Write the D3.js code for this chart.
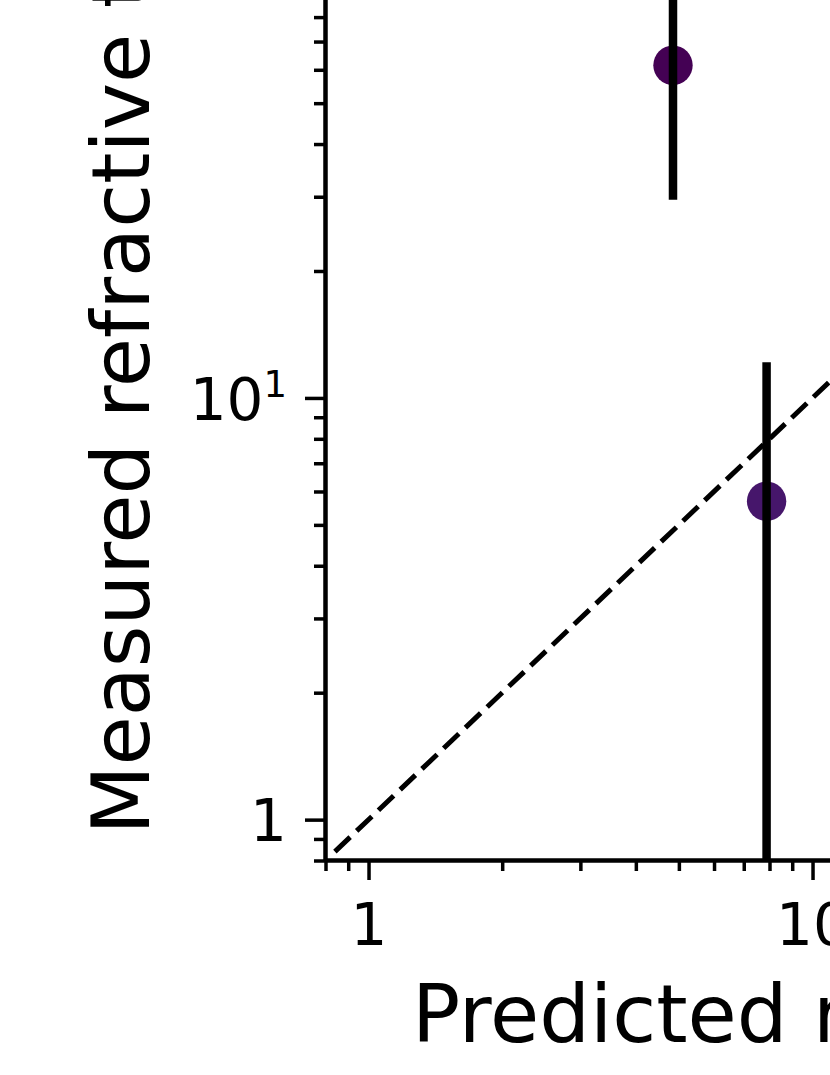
<!DOCTYPE html>
<html>
<head>
<meta charset="utf-8">
<script src="https://cdn.jsdelivr.net/npm/d3@7"></script>
<style>
  html, body { margin: 0; padding: 0; background: #ffffff; overflow: hidden; }
  svg { display: block; }
</style>
</head>
<body>
<script>
// ---- data ----
const predicted = [4.85, 7.88];          // x values
const measured = [61.5, 5.69];           // y values
const measuredErr = [32, 6.46];          // symmetric y errors
const pointColors = ["#440154", "#46166b"];
const xMajorTicks = [1, 10, 100];
const xMajorLabels = ["1", "10", "100"];
const yMajorTicks = [1, 10, 100];
const yMajorLabels = ["1", "10^1", "10^2"];
const minorTicks = [0.8, 0.9, 2, 3, 4, 5, 6, 7, 8, 9, 20, 30, 40, 50, 60, 70, 80, 90, 200, 300, 400, 500];
const identityLine = [0.84, 1000];
const xLabelText = "Predicted refractive time";
const yLabelText = "Measured refractive time";

// ---- layout ----
const W = 830, H = 1075;
const left = 325, bottom = 860.5;
const xPerDecade = 444, yPerDecade = 421.7;
const domainMin = 0.8, domainMax = 1000;
const decades = Math.log10(domainMax / domainMin);

const svg = d3.select("body").append("svg").attr("width", W).attr("height", H);

const x = d3.scaleLog().domain([domainMin, domainMax]).range([left + 0.5, left + 0.5 + decades * xPerDecade]);
const y = d3.scaleLog().domain([domainMin, domainMax]).range([bottom, bottom - decades * yPerDecade]);

const FONT = "DejaVu Sans";

svg.append("clipPath").attr("id", "plotclip")
  .append("rect")
  .attr("x", x.range()[0]).attr("y", y.range()[1])
  .attr("width", x.range()[1] - x.range()[0])
  .attr("height", y.range()[0] - y.range()[1]);

const plot = svg.append("g").attr("clip-path", "url(#plotclip)");

// identity dashed line
const line = d3.line().x(d => x(d)).y(d => y(d));
plot.append("path")
  .datum(identityLine)
  .attr("d", line)
  .attr("fill", "none")
  .attr("stroke", "#000")
  .attr("stroke-width", 5)
  .attr("stroke-dasharray", "21,9");

const pts = predicted.map((v, i) => ({ x: v, y: measured[i], e: measuredErr[i], c: pointColors[i] }));

// markers
plot.selectAll("circle.pt").data(pts).join("circle")
  .attr("class", "pt")
  .attr("cx", d => x(d.x))
  .attr("cy", d => y(d.y))
  .attr("r", 19.7)
  .attr("fill", d => d.c);

// error bars
plot.selectAll("line.err").data(pts).join("line")
  .attr("class", "err")
  .attr("x1", d => x(d.x)).attr("x2", d => x(d.x))
  .attr("y1", d => y(Math.max(d.y - d.e, 1e-3)))
  .attr("y2", d => y(d.y + d.e))
  .attr("stroke", "#000")
  .attr("stroke-width", 8.5);

// ---- axes ----
function styleAxis(g, sw) {
  g.select(".domain").attr("stroke", "#000").attr("stroke-width", sw);
  g.selectAll(".tick line").attr("stroke", "#000").attr("stroke-width", 3.5);
}

// minor ticks
const gxMinor = svg.append("g").attr("transform", `translate(0,${bottom - 0.5})`)
  .call(d3.axisBottom(x).tickValues(minorTicks).tickSize(11).tickSizeOuter(0).tickFormat(""));
styleAxis(gxMinor, 4);
const gyMinor = svg.append("g").attr("transform", `translate(${left},0)`)
  .call(d3.axisLeft(y).tickValues(minorTicks).tickSize(11).tickSizeOuter(0).tickFormat(""));
styleAxis(gyMinor, 4);

// major ticks
const gx = svg.append("g").attr("transform", `translate(0,${bottom - 0.5})`)
  .call(d3.axisBottom(x).tickValues(xMajorTicks).tickSize(20).tickSizeOuter(0)
    .tickFormat((d, i) => xMajorLabels[i]));
styleAxis(gx, 4);
gx.attr("font-family", FONT).attr("font-size", 58);
gx.selectAll(".tick text").attr("fill", "#000").attr("y", 84.5).attr("dy", 0);

const gy = svg.append("g").attr("transform", `translate(${left},0)`)
  .call(d3.axisLeft(y).tickValues(yMajorTicks).tickSize(20).tickSizeOuter(0)
    .tickFormat((d, i) => yMajorLabels[i]));
styleAxis(gy, 4);
gy.attr("font-family", FONT).attr("font-size", 58);
gy.selectAll(".tick text")
  .attr("fill", "#000")
  .attr("x", -38)
  .attr("dy", "0.364em")
  .each(function (d, i) {
    const lab = yMajorLabels[i];
    if (lab.includes("^")) {
      const [base, exp] = lab.split("^");
      const t = d3.select(this).text("");
      t.append("tspan").text(base);
      t.append("tspan").attr("font-size", 37).attr("dy", -23).text(exp);
    }
  });

// axis labels
svg.append("text")
  .attr("x", 412).attr("y", 1041.7)
  .attr("font-family", FONT).attr("font-size", 80)
  .attr("fill", "#000")
  .text(xLabelText);

svg.append("text")
  .attr("transform", "translate(149.3,834.5) rotate(-90)")
  .attr("font-family", FONT).attr("font-size", 80)
  .attr("fill", "#000")
  .text(yLabelText);
</script>
</body>
</html>
